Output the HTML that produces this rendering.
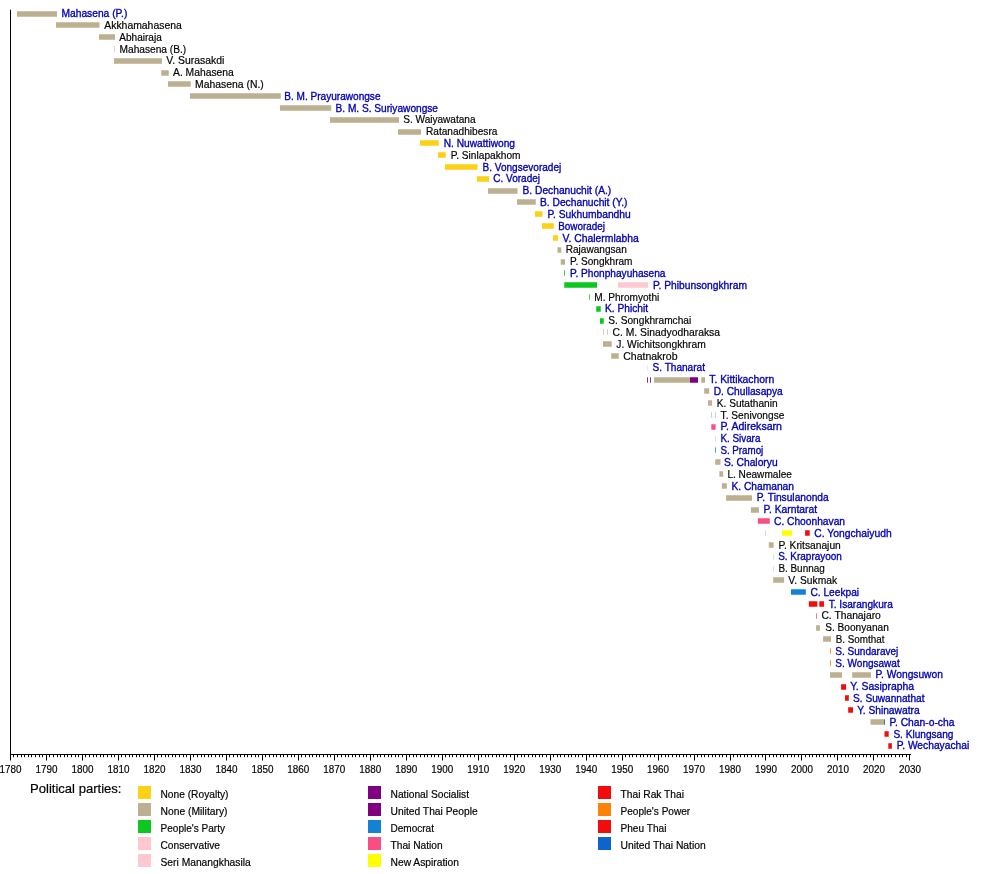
<!DOCTYPE html>
<html><head><meta charset="utf-8"><title>Timeline</title>
<style>
html,body{margin:0;padding:0;background:#fff}
body{width:1000px;height:874px;overflow:hidden}
svg{display:block}
text{font-family:"Liberation Sans",sans-serif;font-size:11px;fill:#000;stroke:#000;stroke-width:.2px}
.l{fill:#0000b4;stroke:#0000b4;stroke-width:.36px}
.a{font-size:11px}
.t{font-size:13px}
</style></head><body>
<svg width="1000" height="874" viewBox="0 0 1000 874">
<rect width="1000" height="874" fill="#fff"/>
<g opacity="0.999">
<rect x="17.00" y="11.25" width="40.00" height="5.50" fill="#bcb091"/>
<text x="61.50" y="17.30" textLength="65.80" lengthAdjust="spacingAndGlyphs" class="l">Mahasena (P.)</text>
<rect x="56.00" y="22.25" width="43.50" height="5.50" fill="#bcb091"/>
<text x="104.25" y="28.71" textLength="77.50" lengthAdjust="spacingAndGlyphs">Akkhamahasena</text>
<rect x="99.00" y="34.25" width="16.00" height="5.50" fill="#bcb091"/>
<text x="119.25" y="40.61" textLength="42.50" lengthAdjust="spacingAndGlyphs">Abhairaja</text>
<rect x="114.00" y="46.25" width="1.00" height="5.50" fill="#bcb091" opacity="0.50"/>
<text x="119.50" y="52.52" textLength="66.75" lengthAdjust="spacingAndGlyphs">Mahasena (B.)</text>
<rect x="114.00" y="58.25" width="48.00" height="5.50" fill="#bcb091"/>
<text x="166.25" y="64.42" textLength="58.00" lengthAdjust="spacingAndGlyphs">V. Surasakdi</text>
<rect x="161.25" y="70.25" width="7.50" height="5.50" fill="#bcb091"/>
<text x="173.00" y="76.33" textLength="60.75" lengthAdjust="spacingAndGlyphs">A. Mahasena</text>
<rect x="168.00" y="81.25" width="22.75" height="5.50" fill="#bcb091"/>
<text x="195.00" y="87.73" textLength="68.75" lengthAdjust="spacingAndGlyphs">Mahasena (N.)</text>
<rect x="190.00" y="93.25" width="90.75" height="5.50" fill="#bcb091"/>
<text x="284.25" y="99.64" textLength="96.25" lengthAdjust="spacingAndGlyphs" class="l">B. M. Prayurawongse</text>
<rect x="280.00" y="105.25" width="51.25" height="5.50" fill="#bcb091"/>
<text x="335.50" y="111.54" textLength="102.50" lengthAdjust="spacingAndGlyphs" class="l">B. M. S. Suriyawongse</text>
<rect x="330.00" y="117.25" width="69.00" height="5.50" fill="#bcb091"/>
<text x="403.25" y="123.45" textLength="72.25" lengthAdjust="spacingAndGlyphs">S. Waiyawatana</text>
<rect x="398.00" y="129.25" width="23.00" height="5.50" fill="#bcb091"/>
<text x="426.00" y="135.35" textLength="71.40" lengthAdjust="spacingAndGlyphs">Ratanadhibesra</text>
<rect x="420.00" y="140.25" width="18.75" height="5.50" fill="#fcd116"/>
<text x="443.75" y="146.75" textLength="71.25" lengthAdjust="spacingAndGlyphs" class="l">N. Nuwattiwong</text>
<rect x="438.00" y="152.25" width="7.75" height="5.50" fill="#fcd116"/>
<text x="450.75" y="158.66" textLength="69.75" lengthAdjust="spacingAndGlyphs">P. Sinlapakhom</text>
<rect x="445.00" y="164.25" width="32.50" height="5.50" fill="#fcd116"/>
<text x="482.50" y="170.56" textLength="78.75" lengthAdjust="spacingAndGlyphs" class="l">B. Vongsevoradej</text>
<rect x="477.00" y="176.25" width="12.25" height="5.50" fill="#fcd116"/>
<text x="493.25" y="182.47" textLength="46.75" lengthAdjust="spacingAndGlyphs" class="l">C. Voradej</text>
<rect x="488.00" y="188.25" width="29.50" height="5.50" fill="#bcb091"/>
<text x="522.50" y="194.38" textLength="88.75" lengthAdjust="spacingAndGlyphs" class="l">B. Dechanuchit (A.)</text>
<rect x="517.00" y="199.25" width="18.75" height="5.50" fill="#bcb091"/>
<text x="540.00" y="205.78" textLength="87.50" lengthAdjust="spacingAndGlyphs" class="l">B. Dechanuchit (Y.)</text>
<rect x="535.00" y="211.25" width="7.50" height="5.50" fill="#fcd116"/>
<text x="547.50" y="217.69" textLength="83.25" lengthAdjust="spacingAndGlyphs" class="l">P. Sukhumbandhu</text>
<rect x="542.00" y="223.25" width="11.75" height="5.50" fill="#fcd116"/>
<text x="558.25" y="229.59" textLength="46.75" lengthAdjust="spacingAndGlyphs" class="l">Boworadej</text>
<rect x="553.00" y="235.25" width="5.00" height="5.50" fill="#fcd116"/>
<text x="562.50" y="241.50" textLength="76.25" lengthAdjust="spacingAndGlyphs" class="l">V. Chalermlabha</text>
<rect x="557.50" y="247.25" width="3.75" height="5.50" fill="#bcb091"/>
<text x="565.75" y="253.40" textLength="61.00" lengthAdjust="spacingAndGlyphs">Rajawangsan</text>
<rect x="560.75" y="259.25" width="4.25" height="5.50" fill="#bcb091"/>
<text x="570.00" y="265.31" textLength="62.50" lengthAdjust="spacingAndGlyphs">P. Songkhram</text>
<rect x="564.00" y="270.25" width="1.00" height="5.50" fill="#0ac81e" opacity="0.85"/>
<text x="570.00" y="276.71" textLength="95.50" lengthAdjust="spacingAndGlyphs" class="l">P. Phonphayuhasena</text>
<rect x="564.25" y="282.25" width="32.75" height="5.50" fill="#0ac81e"/>
<rect x="618.00" y="282.25" width="30.00" height="5.50" fill="#ffc8d0"/>
<text x="653.00" y="288.62" textLength="94.00" lengthAdjust="spacingAndGlyphs" class="l">P. Phibunsongkhram</text>
<rect x="589.00" y="294.25" width="1.00" height="5.50" fill="#0ac81e" opacity="0.75"/>
<text x="594.25" y="300.52" textLength="65.00" lengthAdjust="spacingAndGlyphs">M. Phromyothi</text>
<rect x="596.25" y="306.25" width="4.50" height="5.50" fill="#0ac81e"/>
<text x="605.00" y="312.43" textLength="43.00" lengthAdjust="spacingAndGlyphs" class="l">K. Phichit</text>
<rect x="600.00" y="318.25" width="3.75" height="5.50" fill="#0ac81e"/>
<text x="608.25" y="324.33" textLength="83.00" lengthAdjust="spacingAndGlyphs">S. Songkhramchai</text>
<rect x="603.00" y="329.25" width="1.00" height="5.50" fill="#a8a8a0" opacity="0.60"/>
<rect x="607.00" y="329.25" width="1.00" height="5.50" fill="#a8a8a0" opacity="0.60"/>
<text x="612.50" y="335.74" textLength="107.50" lengthAdjust="spacingAndGlyphs">C. M. Sinadyodharaksa</text>
<rect x="603.00" y="341.25" width="8.75" height="5.50" fill="#bcb091"/>
<text x="616.25" y="347.64" textLength="89.50" lengthAdjust="spacingAndGlyphs">J. Wichitsongkhram</text>
<rect x="611.25" y="353.25" width="7.50" height="5.50" fill="#bcb091"/>
<text x="623.25" y="359.55" textLength="54.25" lengthAdjust="spacingAndGlyphs">Chatnakrob</text>
<rect x="647.00" y="365.25" width="1.00" height="5.50" fill="#bcb091" opacity="0.22"/>
<text x="652.50" y="371.45" textLength="52.50" lengthAdjust="spacingAndGlyphs" class="l">S. Thanarat</text>
<rect x="647.00" y="377.25" width="1.00" height="5.50" fill="#800080" opacity="0.85"/>
<rect x="650.00" y="377.25" width="1.00" height="5.50" fill="#800080" opacity="0.85"/>
<rect x="654.00" y="377.25" width="36.00" height="5.50" fill="#bcb091"/>
<rect x="690.00" y="377.25" width="8.00" height="5.50" fill="#800080"/>
<rect x="701.25" y="377.25" width="3.75" height="5.50" fill="#bcb091"/>
<text x="709.25" y="383.36" textLength="65.00" lengthAdjust="spacingAndGlyphs" class="l">T. Kittikachorn</text>
<rect x="704.20" y="388.25" width="5.00" height="5.50" fill="#bcb091"/>
<text x="713.70" y="394.76" textLength="69.10" lengthAdjust="spacingAndGlyphs" class="l">D. Chullasapya</text>
<rect x="708.00" y="400.25" width="4.00" height="5.50" fill="#c8ac98"/>
<text x="716.80" y="406.67" textLength="60.80" lengthAdjust="spacingAndGlyphs">K. Sutathanin</text>
<rect x="711.00" y="412.25" width="1.00" height="5.50" fill="#a8a8a0" opacity="0.55"/>
<rect x="715.00" y="412.25" width="1.00" height="5.50" fill="#a8a8a0" opacity="0.55"/>
<text x="720.60" y="418.57" textLength="63.80" lengthAdjust="spacingAndGlyphs">T. Senivongse</text>
<rect x="711.30" y="424.25" width="4.30" height="5.50" fill="#f84e84"/>
<text x="720.40" y="430.48" textLength="61.60" lengthAdjust="spacingAndGlyphs" class="l">P. Adireksarn</text>
<rect x="715.00" y="436.25" width="1.00" height="5.50" fill="#bcb091" opacity="0.40"/>
<text x="720.40" y="442.38" textLength="40.00" lengthAdjust="spacingAndGlyphs" class="l">K. Sivara</text>
<rect x="715.00" y="447.25" width="1.00" height="5.50" fill="#1890b0" opacity="0.80"/>
<text x="720.40" y="453.79" textLength="42.90" lengthAdjust="spacingAndGlyphs" class="l">S. Pramoj</text>
<rect x="715.20" y="459.25" width="5.30" height="5.50" fill="#bcb091"/>
<text x="724.00" y="465.69" textLength="53.60" lengthAdjust="spacingAndGlyphs" class="l">S. Chaloryu</text>
<rect x="719.40" y="471.25" width="3.80" height="5.50" fill="#bcb091"/>
<text x="727.40" y="477.60" textLength="64.50" lengthAdjust="spacingAndGlyphs">L. Neawmalee</text>
<rect x="721.90" y="483.25" width="4.90" height="5.50" fill="#bcb091"/>
<text x="731.40" y="489.50" textLength="62.60" lengthAdjust="spacingAndGlyphs" class="l">K. Chamanan</text>
<rect x="726.10" y="495.25" width="25.90" height="5.50" fill="#bcb091"/>
<text x="756.80" y="501.41" textLength="71.90" lengthAdjust="spacingAndGlyphs" class="l">P. Tinsulanonda</text>
<rect x="750.90" y="507.25" width="8.00" height="5.50" fill="#bcb091"/>
<text x="763.50" y="513.31" textLength="53.60" lengthAdjust="spacingAndGlyphs" class="l">P. Karntarat</text>
<rect x="757.90" y="518.25" width="11.90" height="5.50" fill="#f84e84"/>
<text x="774.00" y="524.71" textLength="71.00" lengthAdjust="spacingAndGlyphs" class="l">C. Choonhavan</text>
<rect x="765.00" y="530.25" width="1.00" height="5.50" fill="#a8a8a0" opacity="0.45"/>
<rect x="782.00" y="530.25" width="10.20" height="5.50" fill="#ffff00"/>
<rect x="805.10" y="530.25" width="4.60" height="5.50" fill="#f20c0c"/>
<text x="814.30" y="536.62" textLength="77.40" lengthAdjust="spacingAndGlyphs" class="l">C. Yongchaiyudh</text>
<rect x="768.80" y="542.25" width="4.80" height="5.50" fill="#bcb091"/>
<text x="778.40" y="548.52" textLength="62.40" lengthAdjust="spacingAndGlyphs">P. Kritsanajun</text>
<rect x="773.00" y="554.25" width="1.00" height="5.50" fill="#a8a8a0" opacity="0.40"/>
<text x="778.20" y="560.43" textLength="63.70" lengthAdjust="spacingAndGlyphs" class="l">S. Kraprayoon</text>
<rect x="773.00" y="566.25" width="1.00" height="5.50" fill="#a8a8a0" opacity="0.40"/>
<text x="778.40" y="572.34" textLength="46.30" lengthAdjust="spacingAndGlyphs">B. Bunnag</text>
<rect x="773.20" y="577.25" width="10.90" height="5.50" fill="#bcb091"/>
<text x="788.30" y="583.74" textLength="48.80" lengthAdjust="spacingAndGlyphs">V. Sukmak</text>
<rect x="791.00" y="589.25" width="14.80" height="5.50" fill="#1482d2"/>
<text x="810.40" y="595.64" textLength="48.70" lengthAdjust="spacingAndGlyphs" class="l">C. Leekpai</text>
<rect x="808.80" y="601.25" width="8.60" height="5.50" fill="#f20c0c"/>
<rect x="819.30" y="601.25" width="4.80" height="5.50" fill="#f20c0c"/>
<text x="828.70" y="607.55" textLength="64.10" lengthAdjust="spacingAndGlyphs" class="l">T. Isarangkura</text>
<rect x="816.00" y="613.25" width="1.00" height="5.50" fill="#f84e84" opacity="0.80"/>
<text x="821.40" y="619.45" textLength="59.40" lengthAdjust="spacingAndGlyphs">C. Thanajaro</text>
<rect x="816.10" y="625.25" width="3.80" height="5.50" fill="#bcb091"/>
<text x="825.20" y="631.36" textLength="63.60" lengthAdjust="spacingAndGlyphs">S. Boonyanan</text>
<rect x="823.10" y="636.25" width="7.90" height="5.50" fill="#bcb091"/>
<text x="835.70" y="642.76" textLength="48.70" lengthAdjust="spacingAndGlyphs">B. Somthat</text>
<rect x="830.00" y="648.25" width="1.00" height="5.50" fill="#ff8208" opacity="0.85"/>
<text x="835.30" y="654.67" textLength="63.00" lengthAdjust="spacingAndGlyphs" class="l">S. Sundaravej</text>
<rect x="830.00" y="660.25" width="1.00" height="5.50" fill="#ff8208" opacity="0.85"/>
<text x="835.30" y="666.58" textLength="64.40" lengthAdjust="spacingAndGlyphs" class="l">S. Wongsawat</text>
<rect x="830.00" y="672.25" width="12.00" height="5.50" fill="#bcb091"/>
<rect x="852.20" y="672.25" width="18.80" height="5.50" fill="#bcb091"/>
<text x="875.60" y="678.48" textLength="67.30" lengthAdjust="spacingAndGlyphs" class="l">P. Wongsuwon</text>
<rect x="841.10" y="684.25" width="5.00" height="5.50" fill="#f20c0c"/>
<text x="850.30" y="690.38" textLength="63.70" lengthAdjust="spacingAndGlyphs" class="l">Y. Sasiprapha</text>
<rect x="845.00" y="695.25" width="3.80" height="5.50" fill="#f20c0c"/>
<text x="853.00" y="701.79" textLength="71.50" lengthAdjust="spacingAndGlyphs" class="l">S. Suwannathat</text>
<rect x="848.20" y="707.25" width="4.80" height="5.50" fill="#f20c0c"/>
<text x="857.20" y="713.69" textLength="62.40" lengthAdjust="spacingAndGlyphs" class="l">Y. Shinawatra</text>
<rect x="870.50" y="719.25" width="14.00" height="5.50" fill="#bcb091"/>
<rect x="884.00" y="719.25" width="1.00" height="5.50" fill="#0c64cc" opacity="0.80"/>
<text x="889.40" y="725.60" textLength="65.10" lengthAdjust="spacingAndGlyphs" class="l">P. Chan-o-cha</text>
<rect x="884.50" y="731.25" width="4.20" height="5.50" fill="#f20c0c"/>
<text x="893.40" y="737.50" textLength="60.00" lengthAdjust="spacingAndGlyphs" class="l">S. Klungsang</text>
<rect x="888.30" y="743.25" width="3.60" height="5.50" fill="#f20c0c"/>
<text x="896.70" y="749.41" textLength="72.50" lengthAdjust="spacingAndGlyphs" class="l">P. Wechayachai</text>
<rect x="10" y="9.7" width="1" height="745.3" fill="#000"/>
<rect x="10" y="754" width="901" height="1" fill="#000"/>
<path d="M10.5 754V760.5M13.5 754V757.2M17.5 754V757.2M21.5 754V757.2M24.5 754V757.2M28.5 754V757.2M31.5 754V757.2M35.5 754V757.2M39.5 754V757.2M42.5 754V757.2M46.5 754V760.5M49.5 754V757.2M53.5 754V757.2M57.5 754V757.2M60.5 754V757.2M64.5 754V757.2M67.5 754V757.2M71.5 754V757.2M75.5 754V757.2M78.5 754V757.2M82.5 754V760.5M85.5 754V757.2M89.5 754V757.2M93.5 754V757.2M96.5 754V757.2M100.5 754V757.2M103.5 754V757.2M107.5 754V757.2M111.5 754V757.2M114.5 754V757.2M118.5 754V760.5M121.5 754V757.2M125.5 754V757.2M129.5 754V757.2M132.5 754V757.2M136.5 754V757.2M139.5 754V757.2M143.5 754V757.2M147.5 754V757.2M150.5 754V757.2M154.5 754V760.5M157.5 754V757.2M161.5 754V757.2M165.5 754V757.2M168.5 754V757.2M172.5 754V757.2M175.5 754V757.2M179.5 754V757.2M183.5 754V757.2M186.5 754V757.2M190.5 754V760.5M193.5 754V757.2M197.5 754V757.2M201.5 754V757.2M204.5 754V757.2M208.5 754V757.2M211.5 754V757.2M215.5 754V757.2M219.5 754V757.2M222.5 754V757.2M226.5 754V760.5M229.5 754V757.2M233.5 754V757.2M237.5 754V757.2M240.5 754V757.2M244.5 754V757.2M247.5 754V757.2M251.5 754V757.2M255.5 754V757.2M258.5 754V757.2M262.5 754V760.5M265.5 754V757.2M269.5 754V757.2M273.5 754V757.2M276.5 754V757.2M280.5 754V757.2M283.5 754V757.2M287.5 754V757.2M291.5 754V757.2M294.5 754V757.2M298.5 754V760.5M301.5 754V757.2M305.5 754V757.2M309.5 754V757.2M312.5 754V757.2M316.5 754V757.2M319.5 754V757.2M323.5 754V757.2M327.5 754V757.2M330.5 754V757.2M334.5 754V760.5M337.5 754V757.2M341.5 754V757.2M345.5 754V757.2M348.5 754V757.2M352.5 754V757.2M355.5 754V757.2M359.5 754V757.2M363.5 754V757.2M366.5 754V757.2M370.5 754V760.5M373.5 754V757.2M377.5 754V757.2M380.5 754V757.2M384.5 754V757.2M388.5 754V757.2M391.5 754V757.2M395.5 754V757.2M398.5 754V757.2M402.5 754V757.2M406.5 754V760.5M409.5 754V757.2M413.5 754V757.2M416.5 754V757.2M420.5 754V757.2M424.5 754V757.2M427.5 754V757.2M431.5 754V757.2M434.5 754V757.2M438.5 754V757.2M442.5 754V760.5M445.5 754V757.2M449.5 754V757.2M452.5 754V757.2M456.5 754V757.2M460.5 754V757.2M463.5 754V757.2M467.5 754V757.2M470.5 754V757.2M474.5 754V757.2M478.5 754V760.5M481.5 754V757.2M485.5 754V757.2M488.5 754V757.2M492.5 754V757.2M496.5 754V757.2M499.5 754V757.2M503.5 754V757.2M506.5 754V757.2M510.5 754V757.2M514.5 754V760.5M517.5 754V757.2M521.5 754V757.2M524.5 754V757.2M528.5 754V757.2M532.5 754V757.2M535.5 754V757.2M539.5 754V757.2M542.5 754V757.2M546.5 754V757.2M550.5 754V760.5M553.5 754V757.2M557.5 754V757.2M560.5 754V757.2M564.5 754V757.2M568.5 754V757.2M571.5 754V757.2M575.5 754V757.2M578.5 754V757.2M582.5 754V757.2M586.5 754V760.5M589.5 754V757.2M593.5 754V757.2M596.5 754V757.2M600.5 754V757.2M604.5 754V757.2M607.5 754V757.2M611.5 754V757.2M614.5 754V757.2M618.5 754V757.2M622.5 754V760.5M625.5 754V757.2M629.5 754V757.2M632.5 754V757.2M636.5 754V757.2M640.5 754V757.2M643.5 754V757.2M647.5 754V757.2M650.5 754V757.2M654.5 754V757.2M658.5 754V760.5M661.5 754V757.2M665.5 754V757.2M668.5 754V757.2M672.5 754V757.2M676.5 754V757.2M679.5 754V757.2M683.5 754V757.2M686.5 754V757.2M690.5 754V757.2M694.5 754V760.5M697.5 754V757.2M701.5 754V757.2M704.5 754V757.2M708.5 754V757.2M712.5 754V757.2M715.5 754V757.2M719.5 754V757.2M722.5 754V757.2M726.5 754V757.2M730.5 754V760.5M733.5 754V757.2M737.5 754V757.2M740.5 754V757.2M744.5 754V757.2M747.5 754V757.2M751.5 754V757.2M755.5 754V757.2M758.5 754V757.2M762.5 754V757.2M765.5 754V760.5M769.5 754V757.2M773.5 754V757.2M776.5 754V757.2M780.5 754V757.2M783.5 754V757.2M787.5 754V757.2M791.5 754V757.2M794.5 754V757.2M798.5 754V757.2M801.5 754V760.5M805.5 754V757.2M809.5 754V757.2M812.5 754V757.2M816.5 754V757.2M819.5 754V757.2M823.5 754V757.2M827.5 754V757.2M830.5 754V757.2M834.5 754V757.2M837.5 754V760.5M841.5 754V757.2M845.5 754V757.2M848.5 754V757.2M852.5 754V757.2M855.5 754V757.2M859.5 754V757.2M863.5 754V757.2M866.5 754V757.2M870.5 754V757.2M873.5 754V760.5M877.5 754V757.2M881.5 754V757.2M884.5 754V757.2M888.5 754V757.2M891.5 754V757.2M895.5 754V757.2M899.5 754V757.2M902.5 754V757.2M906.5 754V757.2M909.5 754V760.5" stroke="#000" stroke-width="1" fill="none"/>
<text class="a" x="10.5" y="773" text-anchor="middle" textLength="22" lengthAdjust="spacingAndGlyphs">1780</text>
<text class="a" x="46.5" y="773" text-anchor="middle" textLength="22" lengthAdjust="spacingAndGlyphs">1790</text>
<text class="a" x="82.5" y="773" text-anchor="middle" textLength="22" lengthAdjust="spacingAndGlyphs">1800</text>
<text class="a" x="118.4" y="773" text-anchor="middle" textLength="22" lengthAdjust="spacingAndGlyphs">1810</text>
<text class="a" x="154.4" y="773" text-anchor="middle" textLength="22" lengthAdjust="spacingAndGlyphs">1820</text>
<text class="a" x="190.4" y="773" text-anchor="middle" textLength="22" lengthAdjust="spacingAndGlyphs">1830</text>
<text class="a" x="226.4" y="773" text-anchor="middle" textLength="22" lengthAdjust="spacingAndGlyphs">1840</text>
<text class="a" x="262.4" y="773" text-anchor="middle" textLength="22" lengthAdjust="spacingAndGlyphs">1850</text>
<text class="a" x="298.3" y="773" text-anchor="middle" textLength="22" lengthAdjust="spacingAndGlyphs">1860</text>
<text class="a" x="334.3" y="773" text-anchor="middle" textLength="22" lengthAdjust="spacingAndGlyphs">1870</text>
<text class="a" x="370.3" y="773" text-anchor="middle" textLength="22" lengthAdjust="spacingAndGlyphs">1880</text>
<text class="a" x="406.3" y="773" text-anchor="middle" textLength="22" lengthAdjust="spacingAndGlyphs">1890</text>
<text class="a" x="442.3" y="773" text-anchor="middle" textLength="22" lengthAdjust="spacingAndGlyphs">1900</text>
<text class="a" x="478.2" y="773" text-anchor="middle" textLength="22" lengthAdjust="spacingAndGlyphs">1910</text>
<text class="a" x="514.2" y="773" text-anchor="middle" textLength="22" lengthAdjust="spacingAndGlyphs">1920</text>
<text class="a" x="550.2" y="773" text-anchor="middle" textLength="22" lengthAdjust="spacingAndGlyphs">1930</text>
<text class="a" x="586.2" y="773" text-anchor="middle" textLength="22" lengthAdjust="spacingAndGlyphs">1940</text>
<text class="a" x="622.2" y="773" text-anchor="middle" textLength="22" lengthAdjust="spacingAndGlyphs">1950</text>
<text class="a" x="658.1" y="773" text-anchor="middle" textLength="22" lengthAdjust="spacingAndGlyphs">1960</text>
<text class="a" x="694.1" y="773" text-anchor="middle" textLength="22" lengthAdjust="spacingAndGlyphs">1970</text>
<text class="a" x="730.1" y="773" text-anchor="middle" textLength="22" lengthAdjust="spacingAndGlyphs">1980</text>
<text class="a" x="766.1" y="773" text-anchor="middle" textLength="22" lengthAdjust="spacingAndGlyphs">1990</text>
<text class="a" x="802.1" y="773" text-anchor="middle" textLength="22" lengthAdjust="spacingAndGlyphs">2000</text>
<text class="a" x="838.0" y="773" text-anchor="middle" textLength="22" lengthAdjust="spacingAndGlyphs">2010</text>
<text class="a" x="874.0" y="773" text-anchor="middle" textLength="22" lengthAdjust="spacingAndGlyphs">2020</text>
<text class="a" x="910.0" y="773" text-anchor="middle" textLength="22" lengthAdjust="spacingAndGlyphs">2030</text>
<text class="t" x="30" y="793" textLength="91.5" lengthAdjust="spacingAndGlyphs">Political parties:</text>
<rect x="138" y="786.0" width="13" height="13" fill="#fcd116"/>
<text x="160.5" y="797.9" textLength="68.00" lengthAdjust="spacingAndGlyphs">None (Royalty)</text>
<rect x="138" y="803.0" width="13" height="13" fill="#bcb091"/>
<text x="160.5" y="814.9" textLength="67.00" lengthAdjust="spacingAndGlyphs">None (Military)</text>
<rect x="138" y="820.0" width="13" height="13" fill="#0ac81e"/>
<text x="160.5" y="831.9" textLength="64.50" lengthAdjust="spacingAndGlyphs">People's Party</text>
<rect x="138" y="837.0" width="13" height="13" fill="#ffc8d0"/>
<text x="160.5" y="848.9" textLength="59.50" lengthAdjust="spacingAndGlyphs">Conservative</text>
<rect x="138" y="854.0" width="13" height="13" fill="#ffc8d0"/>
<text x="160.5" y="865.9" textLength="90.25" lengthAdjust="spacingAndGlyphs">Seri Manangkhasila</text>
<rect x="368" y="786.0" width="13" height="13" fill="#800080"/>
<text x="390.5" y="797.9" textLength="78.50" lengthAdjust="spacingAndGlyphs">National Socialist</text>
<rect x="368" y="803.0" width="13" height="13" fill="#800080"/>
<text x="390.5" y="814.9" textLength="87.20" lengthAdjust="spacingAndGlyphs">United Thai People</text>
<rect x="368" y="820.0" width="13" height="13" fill="#1482d2"/>
<text x="390.5" y="831.9" textLength="43.50" lengthAdjust="spacingAndGlyphs">Democrat</text>
<rect x="368" y="837.0" width="13" height="13" fill="#f84e84"/>
<text x="390.5" y="848.9" textLength="52.20" lengthAdjust="spacingAndGlyphs">Thai Nation</text>
<rect x="368" y="854.0" width="13" height="13" fill="#ffff00"/>
<text x="390.5" y="865.9" textLength="68.50" lengthAdjust="spacingAndGlyphs">New Aspiration</text>
<rect x="598" y="786.0" width="13" height="13" fill="#f20c0c"/>
<text x="620.5" y="797.9" textLength="63.50" lengthAdjust="spacingAndGlyphs">Thai Rak Thai</text>
<rect x="598" y="803.0" width="13" height="13" fill="#ff8208"/>
<text x="620.5" y="814.9" textLength="69.70" lengthAdjust="spacingAndGlyphs">People's Power</text>
<rect x="598" y="820.0" width="13" height="13" fill="#f20c0c"/>
<text x="620.5" y="831.9" textLength="45.90" lengthAdjust="spacingAndGlyphs">Pheu Thai</text>
<rect x="598" y="837.0" width="13" height="13" fill="#0c64cc"/>
<text x="620.5" y="848.9" textLength="85.20" lengthAdjust="spacingAndGlyphs">United Thai Nation</text>
</g></svg>
</body></html>
